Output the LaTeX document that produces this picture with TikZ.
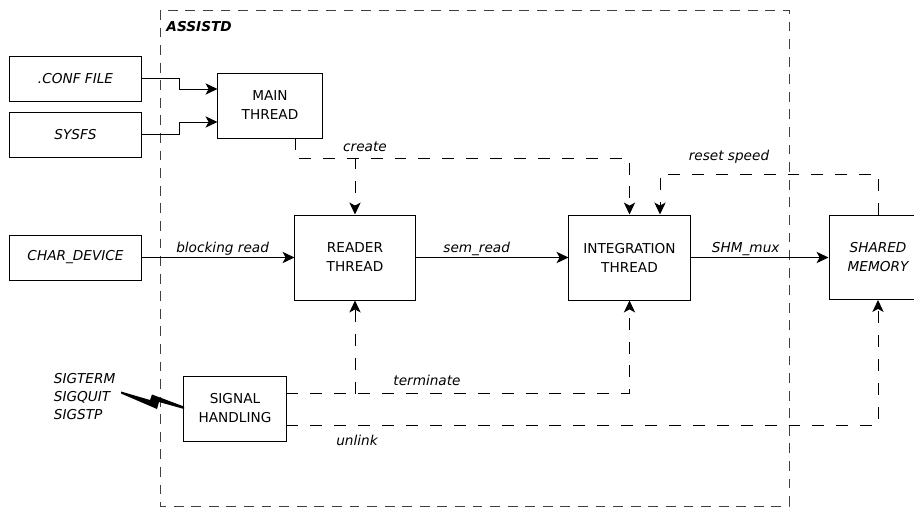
\documentclass[tikz,border=0pt]{standalone}
\usepackage{fontspec}
\setmainfont{DejaVu Sans}
\usetikzlibrary{arrows.meta,calc}

\begin{document}
\begin{tikzpicture}[x=0.025cm,y=-0.025cm,>={Stealth[length=8.5pt,width=8pt,inset=2.2pt]},
  line width=0.7pt,font=\fontsize{9.7}{13.5}\selectfont,
  block/.style={draw,inner sep=0pt,align=center},
  ext/.style={block,font=\fontsize{9.7}{13.5}\selectfont\itshape,minimum width=3.275cm,minimum height=1.125cm},
  flow/.style={->},
  dline/.style={dash pattern=on 8.5pt off 8.5pt},
  edge label/.style={font=\fontsize{9.7}{12.8}\selectfont\itshape,inner sep=1pt}]
  \useasboundingbox (0,0) rectangle (914,507);
  \clip (0,0) rectangle (914,507);

  \draw[black!75,dash pattern=on 7pt off 5.5pt] (160,10) rectangle (789,506);
  \node[font=\fontsize{9.7}{12}\selectfont\bfseries\itshape,anchor=west,inner sep=0pt] (title) at (166,27) {ASSISTD};

  \node[ext] (conf) at (75.5,78.5) {.CONF FILE};
  \node[ext] (sysfs) at (75.5,134.5) {SYSFS};
  \node[ext] (chardev) at (75.5,257.5) {CHAR\_DEVICE};
  \node[block,minimum width=2.6cm,minimum height=1.625cm] (main) at (270,105.5) {MAIN\\THREAD};
  \node[block,minimum width=3cm,minimum height=2.125cm] (reader) at (355,257.5) {READER\\THREAD};
  \node[block,minimum width=3.025cm,minimum height=2.125cm] (integ) at (629.5,257.5) {INTEGRATION\\THREAD};
  \node[ext,minimum width=2.45cm,minimum height=2.1cm] (shm) at (878,257.5) {SHARED\\MEMORY};
  \node[block,minimum width=2.55cm,minimum height=1.625cm] (signal) at (235,408.5) {SIGNAL\\HANDLING};
  \node[edge label,align=left,anchor=north west] (sigs) at (52,371) {SIGTERM\\SIGQUIT\\SIGSTP};

  \draw[flow] (conf.east) -- ++(38,0) |- ($(main.west)+(0,-16.5)$);
  \draw[flow] (sysfs.east) -- ++(38,0) |- ($(main.west)+(0,16.5)$);

  \draw[flow,dline] ($(main.south)+(25,0)$) -- ++(0,20) -| (integ.north);
  \draw[flow,dline] ($(reader.north)+(0,-57)$) -- (reader.north);
  \node[edge label] (lcreate) at (365,147) {create};
  \draw[flow,dline] (shm.north) -- ++(0,-41) -| ($(integ.north)+(30.5,0)$);
  \node[edge label] (lreset) at (729,157) {reset speed};

  \draw[flow] (chardev) -- node[edge label,above,pos=0.53] (lblock) {blocking read} (reader);
  \draw[flow] (reader) -- node[edge label,above,pos=0.4] (lsem) {sem\_read} (integ);
  \draw[flow] (integ) -- node[edge label,above,pos=0.4] (lshm) {SHM\_mux} (shm);

  \draw[flow,dline] ($(signal.east)+(0,-15.5)$) -| (integ.south);
  \draw[flow,dline] ($(reader.south)+(0,93)$) -- (reader.south);
  \node[edge label] (lterm) at (427,380) {terminate};
  \draw[flow,dline] ($(signal.east)+(0,16.5)$) -| (shm.south);
  \node[edge label] (lunlink) at (357,440) {unlink};

  \fill (121,391.5) -- (150,400) -- (152,394.5) -- (184,406.5) -- (184,409) -- (159,402) -- (157,409) -- (121,393.5) -- cycle;
\end{tikzpicture}
\end{document}
